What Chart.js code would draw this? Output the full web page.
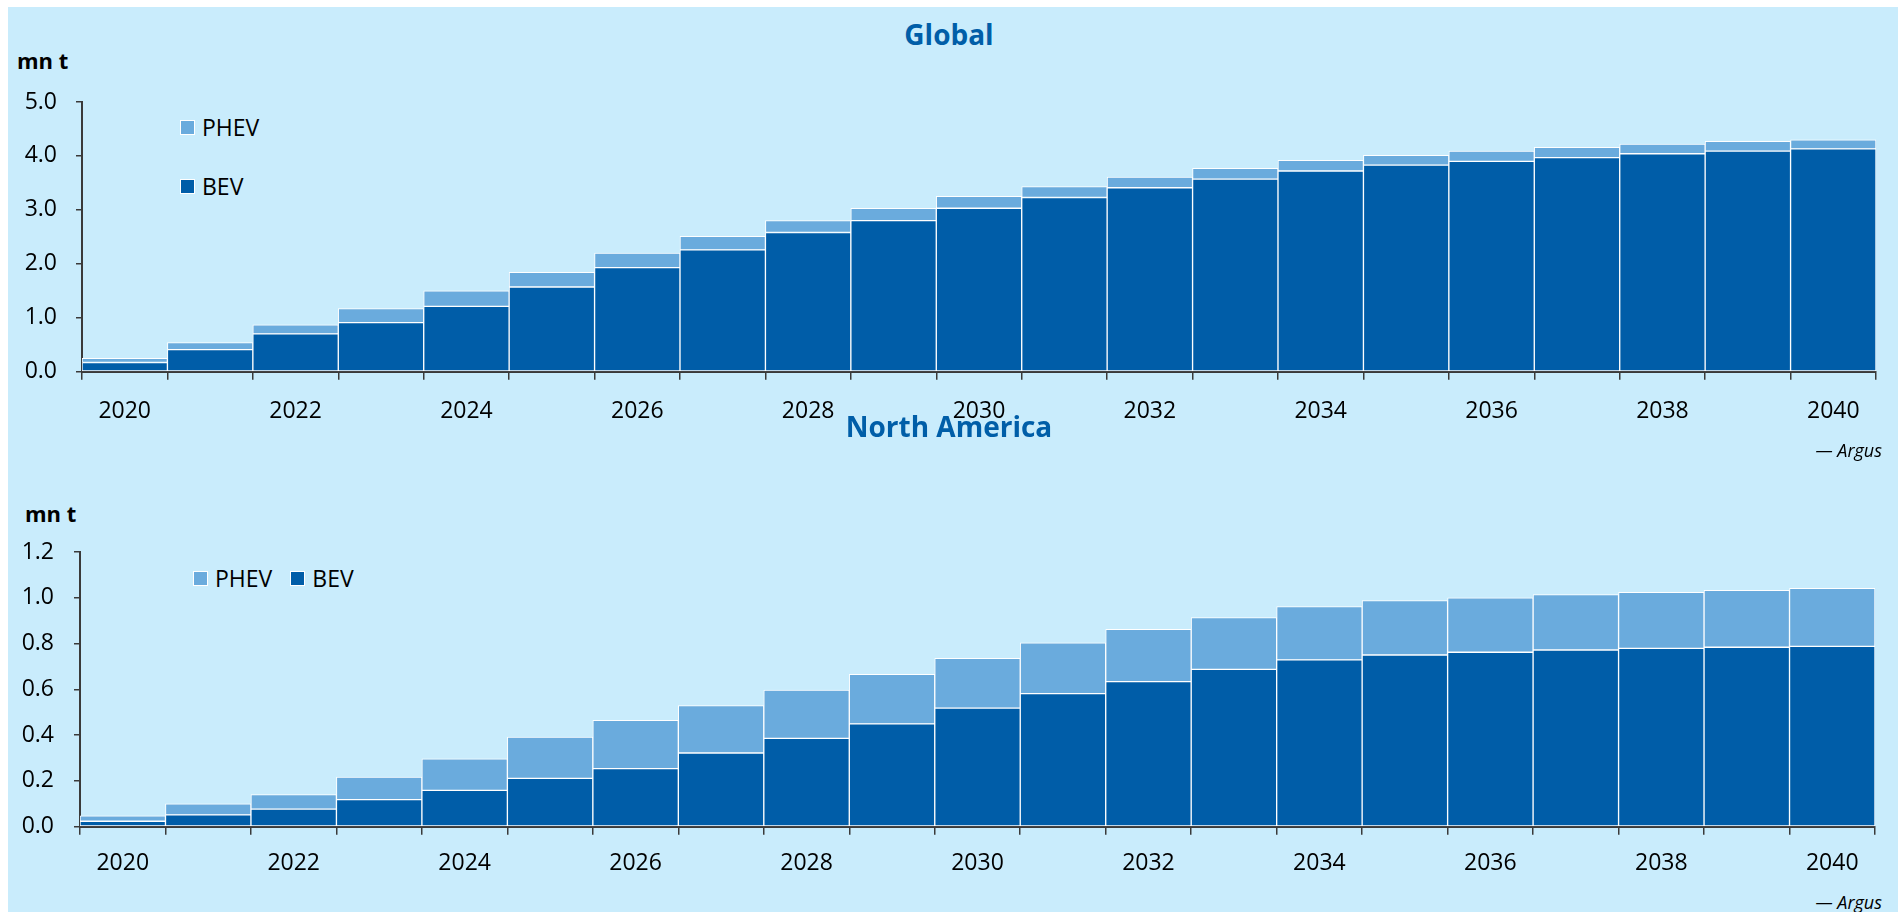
<!DOCTYPE html>
<html>
<head>
<meta charset="utf-8">
<script src="https://cdn.jsdelivr.net/npm/chart.js@4.4.0/dist/chart.umd.min.js"></script>
<style>
body{margin:0;background:#fff;width:1898px;height:912px;overflow:hidden;position:relative;font-family:"Open Sans",sans-serif;color:#000}
#panel{position:absolute;left:8px;top:7px;right:0;bottom:0;background:#c9ecfc}
.box{position:absolute;left:0;width:1898px;height:360px}
.title{position:absolute;left:0;width:1898px;text-align:center;font-weight:bold;font-size:28px;color:#005ea8;line-height:32px}
.unit{position:absolute;font-weight:bold;font-size:22px;line-height:26px}
.src{position:absolute;font-style:italic;font-size:18px;line-height:22px}
.leg{position:absolute;font-size:23px;line-height:26px;display:flex;align-items:center}
.sw{display:inline-block;width:13px;height:13px;border:1px solid #fff;margin-right:7px}
</style>
</head>
<body>
<div id="panel"></div>

<div class="title" style="top:18px">Global</div>
<div class="unit" style="left:17px;top:47px">mn t</div>
<div class="leg" style="left:180px;top:114px"><span class="sw" style="background:#6aabdd"></span>PHEV</div>
<div class="leg" style="left:180px;top:173px"><span class="sw" style="background:#005da8"></span>BEV</div>
<div class="box" style="top:80px"><canvas id="globalChart" width="1898" height="360"></canvas></div>
<div class="src" style="right:16px;top:439px">— Argus</div>

<div class="title" style="top:410px">North America</div>
<div class="unit" style="left:25px;top:500px">mn t</div>
<div class="leg" style="left:193px;top:565px"><span class="sw" style="background:#6aabdd"></span>PHEV<span class="sw" style="background:#005da8;margin-left:18px"></span>BEV</div>
<div class="box" style="top:530px"><canvas id="naChart" width="1898" height="360"></canvas></div>
<div class="src" style="right:16px;top:891px">— Argus</div>

<script>
var years = ["2020","2021","2022","2023","2024","2025","2026","2027","2028","2029","2030",
             "2031","2032","2033","2034","2035","2036","2037","2038","2039","2040"];

// global demand, mn t
var globalBEV  = [0.17,0.41,0.70,0.91,1.21,1.57,1.93,2.26,2.58,2.80,3.03,3.23,3.41,3.57,3.72,3.83,3.90,3.97,4.04,4.09,4.13];
var globalPHEV = [0.08,0.13,0.17,0.26,0.29,0.27,0.27,0.25,0.22,0.23,0.22,0.20,0.20,0.20,0.20,0.18,0.19,0.19,0.18,0.18,0.17];

// north america demand, mn t
var naBEV  = [0.024,0.052,0.077,0.118,0.159,0.211,0.254,0.322,0.386,0.449,0.518,0.581,0.634,0.687,0.729,0.750,0.762,0.772,0.779,0.784,0.788];
var naPHEV = [0.023,0.048,0.063,0.099,0.137,0.180,0.211,0.207,0.211,0.217,0.217,0.222,0.228,0.227,0.233,0.238,0.238,0.242,0.245,0.249,0.253];

var globalTicks = {min:0, max:5, step:1};
var naTicks = {min:0, max:1.2, step:0.2};

var BEV_COLOR = "#005da8";
var PHEV_COLOR = "#6aabdd";
var AXIS_COLOR = "#3a3a3a";

function makeChart(id, bev, phev, yt, opt){
  var ctx = document.getElementById(id);
  return new Chart(ctx, {
    type: 'bar',
    data: {
      labels: years,
      datasets: [
        {label:"BEV", data:bev, backgroundColor:BEV_COLOR, borderColor:"#fff", borderWidth:1, borderSkipped:false},
        {label:"PHEV", data:phev, backgroundColor:PHEV_COLOR, borderColor:"#fff", borderWidth:1, borderSkipped:false}
      ]
    },
    options: {
      responsive: false,
      animation: false,
      barPercentage: 1,
      categoryPercentage: 1,
      layout: {padding: {top:22, right:opt.right, left:0, bottom:0}},
      plugins: {legend:{display:false}, tooltip:{enabled:false}, title:{display:false}},
      scales: {
        x: {
          stacked: true,
          grid: {display:true, offset:true, drawOnChartArea:false, drawTicks:true, tickLength:8, color:AXIS_COLOR, lineWidth:1.5},
          border: {display:true, color:AXIS_COLOR, width:2},
          ticks: {
            autoSkip:false, maxRotation:0, padding:opt.xPad, color:"#000",
            font:{family:"Open Sans", size:23},
            callback: function(v, i){ return i % 2 == 0 ? years[i] : ""; }
          },
          afterFit: function(s){ s.height = opt.xHeight; s.paddingLeft = 0; s.paddingRight = 0; }
        },
        y: {
          stacked: true,
          min: yt.min, max: yt.max,
          grid: {display:true, drawOnChartArea:false, drawTicks:true, tickLength:6, color:AXIS_COLOR, lineWidth:1.5},
          border: {display:true, color:AXIS_COLOR, width:2},
          ticks: {
            stepSize: yt.step, padding:opt.yPad, color:"#000",
            font:{family:"Open Sans", size:23},
            callback: function(v){ return Number(v).toFixed(1); }
          },
          // keep the plot edges where the layout padding puts them
          afterFit: function(s){ s.width = opt.yWidth; s.paddingTop = 0; s.paddingBottom = 0; }
        }
      }
    }
  });
}

makeChart("globalChart", globalBEV, globalPHEV, globalTicks, {right:22, xHeight:68.3, xPad:18, yWidth:82, yPad:19});
makeChart("naChart", naBEV, naPHEV, naTicks, {right:23, xHeight:63.3, xPad:15, yWidth:80, yPad:20});
</script>
</body>
</html>
